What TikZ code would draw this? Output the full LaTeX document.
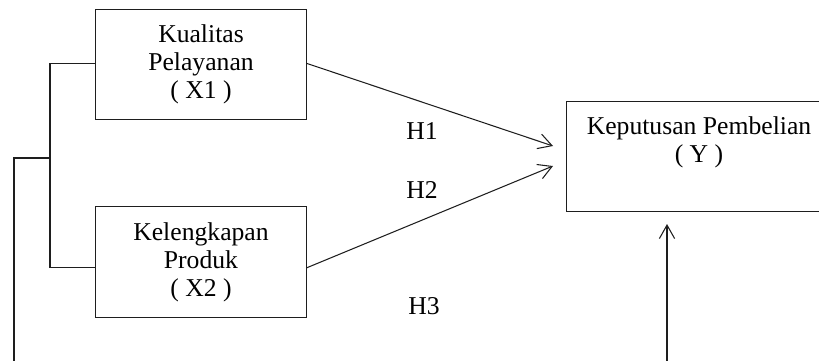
\documentclass[tikz,border=0pt]{standalone}
\usepackage{fontspec}
\setmainfont{Liberation Serif}
\usetikzlibrary{arrows.meta,positioning,calc}
\definecolor{inkline}{RGB}{30,30,30}

\begin{document}
\begin{tikzpicture}[
      x=0.03cm,y=-0.03cm,
      box/.style={draw=inkline, line width=0.9pt, align=center, inner sep=0pt,
        minimum width=179.3pt, minimum height=94pt},
      link/.style={draw=inkline, line width=0.9pt},
      arr/.style={link, -{Straight Barb[length=11.5pt,width=13pt,line width=0.9pt]}},
      hlabel/.style={inner sep=0pt}
    ]
      \useasboundingbox (0,0) rectangle (819,360);
      \clip (0,0) rectangle (819,360);
      \fontsize{21.9}{23.9}\selectfont
      \node[box] (x1) at (201,64.5) {Kualitas\\Pelayanan\\( X1 )};
      \node[box] (x2) at (201,262) {Kelengkapan\\Produk\\( X2 )};
      \node[box, minimum width=227pt] (y) at (699,156.5) {};
      \node[align=center, inner sep=0pt] (ytext) at (699,142) {Keputusan Pembelian\\( Y )};
      \coordinate (in1) at (553,146);
      \coordinate (in2) at (553,166);
      \coordinate (fork) at (50,158);
      \coordinate (yin) at (667,224);
      \draw[arr] ([yshift=1pt]x1.east) -- (in1);
      \draw[arr] ([yshift=-5pt]x2.east) -- (in2);
      \draw[link] ([yshift=1pt]x1.west) -| (fork) |- ([yshift=-4.3pt]x2.west);
      \draw[arr] (fork) -| (14,390) -| (yin);
      \node[hlabel] (h1) at (422,131) {H1};
      \node[hlabel] (h2) at (422,190) {H2};
      \node[hlabel] (h3) at (424,306) {H3};
    \end{tikzpicture}
\end{document}
